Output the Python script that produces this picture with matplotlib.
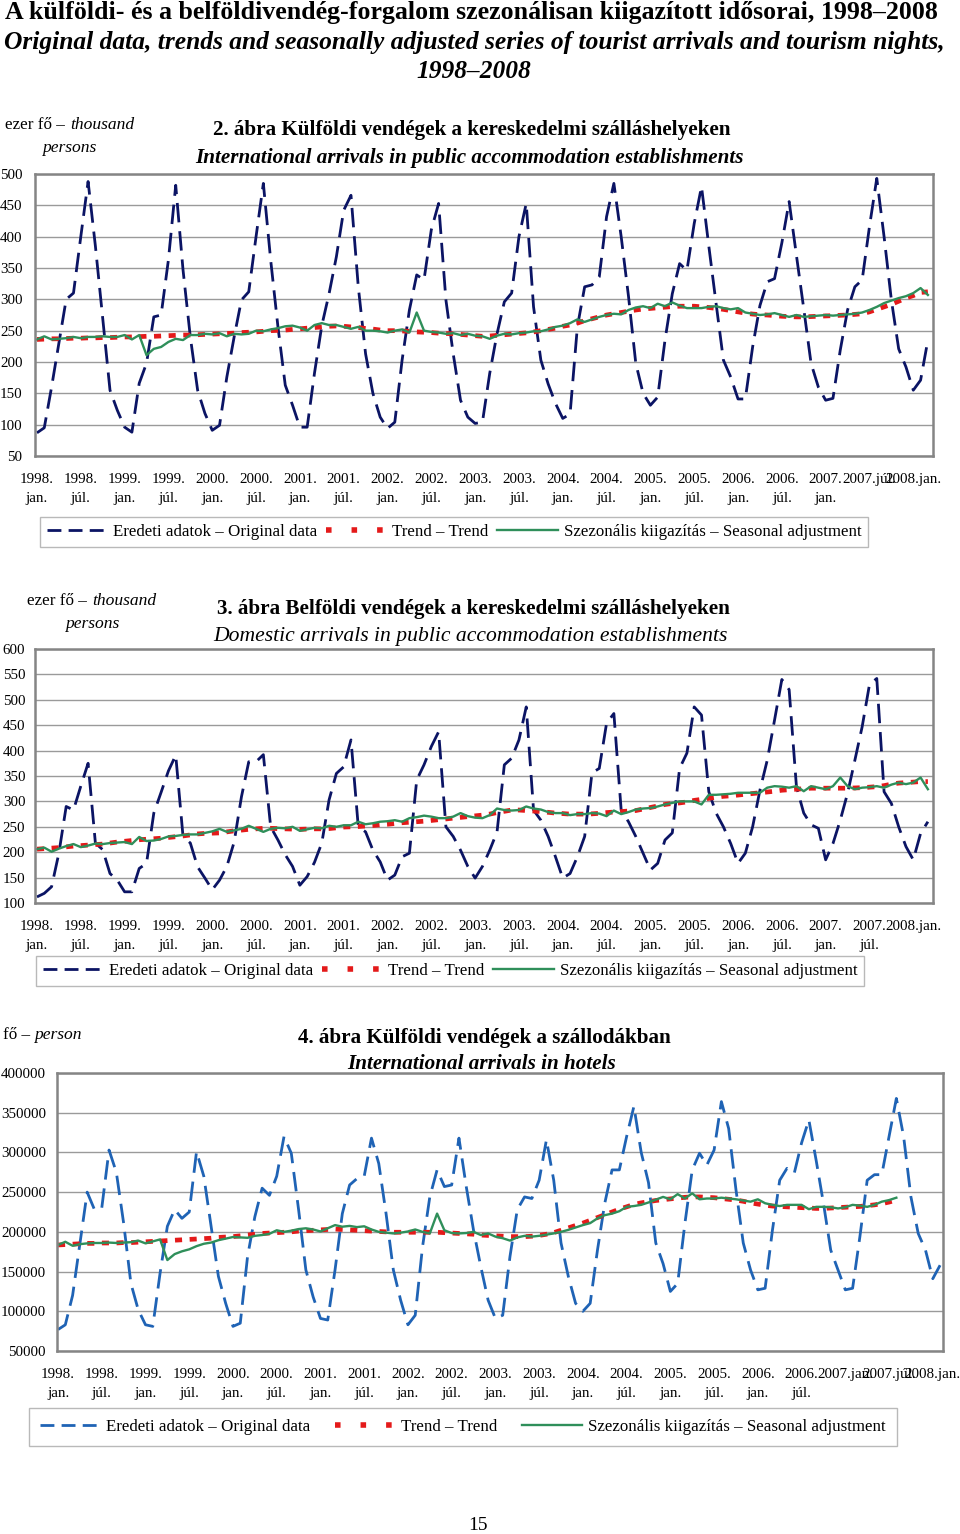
import matplotlib
matplotlib.use('Agg')
import matplotlib.pyplot as plt
from matplotlib.lines import Line2D

plt.rcParams['font.family'] = ['Liberation Serif', 'DejaVu Serif']

W, H = 960, 1534

## Data ##
# 2. abra - kulfoldi vendegek, kereskedelmi szallashelyek (ezer fo), 1998 jan - 2008 mar
orig_kulf = [87, 95, 160, 230, 300, 310, 400, 488, 385, 270, 155, 123,
             96, 88, 166, 198, 272, 275, 363, 482, 347, 240, 155, 118,
             91, 99, 176, 240, 299, 312, 400, 485, 363, 256, 163, 131,
             96, 96, 182, 258, 309, 368, 442, 466, 320, 213, 150, 112,
             94, 104, 203, 283, 339, 331, 411, 453, 299, 213, 139, 112,
             102, 104, 182, 245, 296, 310, 400, 453, 288, 203, 165, 134,
             110, 117, 256, 320, 323, 336, 432, 485, 400, 305, 198, 150,
             131, 144, 235, 309, 357, 346, 421, 480, 385, 293, 203, 176,
             141, 141, 224, 290, 328, 333, 390, 456, 370, 285, 198, 160,
             139, 142, 219, 283, 320, 331, 416, 493, 400, 299, 221, 192,
             155, 171, 235]
trend_kulf = [236, 236.5, 237, 237, 237.5, 238, 238, 238.5, 238.5, 239, 239, 239.5,
              240, 240, 240.5, 241, 241, 241.5, 242, 242.5, 243, 243, 243.5, 244,
              244.5, 245, 245.5, 246, 247, 247.5, 248, 249, 250, 250.5, 251, 252,
              253, 254, 255, 256, 257, 257.5, 257, 256, 255, 253.5, 252.5, 251,
              250, 250, 249.5, 249, 248, 247.5, 247, 246, 245.5, 245, 244, 243,
              242, 241, 241.5, 242.5, 243.5, 244.5, 245.5, 246.5, 248, 250, 252, 254,
              257, 259, 262, 266, 269, 272, 275, 277, 279, 281, 283, 284.5,
              285.5, 286.5, 287.5, 288.5, 289, 289, 289, 288, 287, 285.5, 284, 282,
              280, 278, 276.5, 275.5, 275, 274, 273, 272.5, 272, 272, 272.5, 273,
              273.5, 274, 274.5, 275, 276, 277, 280, 284, 288, 292, 297, 302,
              306, 311, 312]
sa_kulf = [236, 241, 236, 237, 238, 240, 238, 240, 240, 241, 240, 240,
           243, 236, 243, 211, 221, 224, 232, 237, 235, 243, 243, 245,
           244, 246, 241, 245, 244, 245, 250, 249, 252, 254, 257, 258,
           255, 250, 259, 262, 259, 259, 256, 253, 256, 250, 250, 249,
           247, 250, 252, 247, 279, 250, 248, 247, 245, 246, 243, 245,
           242, 241, 237, 242, 245, 244, 246, 247, 249, 249, 252, 256,
           258, 262, 268, 264, 268, 272, 275, 277, 276, 283, 287, 289,
           286, 293, 289, 295, 290, 286, 286, 286, 288, 289, 286, 284,
           286, 279, 277, 275, 276, 278, 275, 272, 275, 272, 273, 274,
           275, 274, 275, 276, 277, 279, 283, 288, 294, 298, 302, 305,
           310, 318, 307]

# 3. abra - belfoldi vendegek, kereskedelmi szallashelyek (ezer fo)
orig_belf = [112, 119, 132, 198, 290, 283, 330, 375, 218, 205, 158, 145,
             122, 122, 168, 178, 277, 318, 360, 391, 231, 218, 171, 149,
             126, 145, 172, 220, 309, 378, 378, 392, 250, 224, 195, 172,
             135, 152, 180, 218, 303, 355, 368, 421, 250, 240, 204, 181,
             145, 155, 191, 198, 342, 372, 408, 437, 250, 231, 204, 172,
             149, 172, 204, 240, 372, 385, 421, 486, 283, 263, 231, 191,
             149, 158, 191, 231, 356, 365, 454, 473, 283, 260, 231, 198,
             165, 178, 224, 238, 365, 395, 486, 470, 319, 277, 250, 217,
             178, 198, 250, 322, 381, 460, 540, 520, 329, 277, 254, 247,
             185, 217, 263, 316, 381, 447, 530, 542, 319, 296, 250, 211,
             185, 237, 260]
trend_belf = [206, 207, 208, 209, 210.5, 212, 213, 214, 215, 216, 218, 220,
              221.5, 223, 224.5, 225.5, 226.5, 227.5, 229, 230.5, 232, 234, 236, 237,
              237.5, 238, 240, 242, 243.5, 245, 246, 247, 247, 246.5, 246, 245.5,
              245, 245.5, 246, 246, 246.5, 248, 249.5, 250, 250.5, 251.5, 252.5, 254,
              255, 256.5, 258, 259, 260, 261, 262.5, 264, 265.5, 267, 268.5, 270,
              271.5, 273, 275, 278, 280.5, 283, 283, 282, 281, 280, 278.5, 277,
              276, 275, 275, 275, 275.5, 276.5, 278, 279, 280, 281, 282, 285,
              288, 291, 294, 296, 297, 299, 302, 304, 306, 308, 310, 311,
              312.5, 314, 315.5, 317, 318.5, 320, 322, 323, 324, 325, 326, 326,
              326, 326, 326, 326, 326.5, 327, 328, 329, 331, 334, 336, 337,
              338, 339, 339]
sa_belf = [206, 209, 201, 207, 212, 216, 210, 213, 217, 216, 218, 219,
           220, 216, 230, 222, 223, 226, 231, 232, 234, 235, 235, 238,
           241, 246, 240, 243, 246, 252, 246, 240, 246, 248, 247, 250,
           242, 245, 248, 247, 252, 250, 253, 253, 260, 255, 257, 260,
           261, 263, 260, 267, 269, 272, 270, 267, 267, 270, 277, 271,
           268, 267, 273, 286, 283, 282, 283, 290, 286, 284, 279, 277,
           277, 273, 275, 275, 277, 276, 271, 282, 275, 279, 284, 286,
           287, 290, 294, 297, 300, 300, 300, 294, 313, 313, 314, 315,
           317, 317, 317, 317, 327, 330, 329, 327, 330, 320, 330, 327,
           324, 330, 347, 330, 324, 327, 328, 330, 327, 333, 337, 334,
           337, 347, 324]

# 4. abra - kulfoldi vendegek a szallodakban (fo), 1998 jan - 2008 feb
orig_szal = [77000, 83000, 120000, 185000, 250000, 228000, 230000, 303000, 275000, 211000, 135000, 102000,
             83000, 81000, 148000, 207000, 228000, 217000, 225000, 301000, 270000, 207000, 144000, 110000,
             81000, 85000, 169000, 219000, 255000, 246000, 270000, 320000, 299000, 228000, 152000, 118000,
             91000, 89000, 152000, 223000, 259000, 267000, 270000, 318000, 286000, 223000, 152000, 114000,
             83000, 95000, 181000, 244000, 278000, 257000, 259000, 318000, 257000, 202000, 156000, 114000,
             91000, 95000, 169000, 228000, 244000, 242000, 265000, 316000, 265000, 186000, 144000, 110000,
             100000, 110000, 177000, 236000, 278000, 278000, 320000, 358000, 300000, 262000, 186000, 160000,
             125000, 135000, 211000, 278000, 299000, 284000, 303000, 364000, 330000, 253000, 186000, 152000,
             127000, 129000, 202000, 265000, 280000, 274000, 312000, 341000, 290000, 236000, 177000, 152000,
             127000, 129000, 194000, 265000, 272000, 272000, 320000, 368000, 320000, 244000, 198000, 177000,
             141000, 158000]
trend_szal = [183500, 184000, 184500, 185000, 185500, 185500, 186000, 186000, 186000, 186500, 186500, 187000,
              187500, 188000, 188500, 189000, 189500, 190000, 190500, 191000, 191500, 192000, 193000, 193500,
              194000, 195000, 196000, 197000, 198000, 198500, 199000, 199500, 200000, 201000, 201500, 202000,
              202500, 203000, 203500, 203000, 202500, 202000, 201500, 201000, 200500, 200000, 199500, 199500,
              199500, 199500, 199500, 199500, 199500, 199000, 198500, 198000, 197500, 197000, 196000, 195500,
              195000, 194500, 194000, 194000, 194000, 194500, 195500, 197000, 199000, 202000, 205000, 208000,
              211000, 214500, 218000, 221500, 225000, 228500, 231500, 234500, 236500, 238000, 239500, 240500,
              241500, 242500, 243500, 244000, 244000, 243500, 243000, 242000, 241000, 240000, 238500, 236500,
              235000, 233500, 232500, 232000, 231500, 231000, 230500, 230000, 229500, 229500, 230000, 230500,
              231000, 231500, 232000, 233000, 234000, 235500, 237500, 240000]
sa_szal = [183500, 187500, 182500, 184500, 185500, 186000, 186000, 186500, 186000, 186500, 187000, 189000,
           185500, 188000, 190500, 164500, 172000, 175500, 178000, 182000, 185000, 186500, 189500, 191500,
           193500, 193000, 192500, 195000, 196000, 197500, 202000, 200000, 201500, 203500, 204500, 203000,
           200500, 204500, 208500, 206500, 207500, 206000, 207000, 203000, 200000, 199000, 198000, 199000,
           200500, 203000, 200000, 198000, 223000, 202000, 198500, 198000, 198500, 200000, 196000, 198000,
           194000, 192000, 189000, 193000, 195000, 194000, 195000, 196500, 198000, 200000, 202500, 205500,
           208500, 211000, 217000, 221000, 223000, 226000, 231500, 232500, 234000, 237000, 240500, 244000,
           241000, 247500, 242000, 248500, 241000, 242000, 242000, 243000, 242000, 241000, 239500, 238000,
           241000, 236000, 234000, 232500, 234000, 234000, 234000, 228500, 231500, 231500, 231000, 229500,
           231000, 234000, 233000, 231500, 234000, 238000, 240000, 243000]

# tick labels, every 6th month
tick_pos = [0, 6, 12, 18, 24, 30, 36, 42, 48, 54, 60, 66, 72, 78, 84, 90, 96, 102, 108, 114, 120]
labels_kulf = ['1998.\njan.', '1998.\njúl.', '1999.\njan.', '1999.\njúl.', '2000.\njan.', '2000.\njúl.',
               '2001.\njan.', '2001.\njúl.', '2002.\njan.', '2002.\njúl.', '2003.\njan.', '2003.\njúl.',
               '2004.\njan.', '2004.\njúl.', '2005.\njan.', '2005.\njúl.', '2006.\njan.', '2006.\njúl.',
               '2007.\njan.', '2007.júl.', '2008.jan.']
labels_belf = ['1998.\njan.', '1998.\njúl.', '1999.\njan.', '1999.\njúl.', '2000.\njan.', '2000.\njúl.',
               '2001.\njan.', '2001.\njúl.', '2002.\njan.', '2002.\njúl.', '2003.\njan.', '2003.\njúl.',
               '2004.\njan.', '2004.\njúl.', '2005.\njan.', '2005.\njúl.', '2006.\njan.', '2006.\njúl.',
               '2007.\njan.', '2007.\njúl.', '2008.jan.']
labels_szal = ['1998.\njan.', '1998.\njúl.', '1999.\njan.', '1999.\njúl.', '2000.\njan.', '2000.\njúl.',
               '2001.\njan.', '2001.\njúl.', '2002.\njan.', '2002.\njúl.', '2003.\njan.', '2003.\njúl.',
               '2004.\njan.', '2004.\njúl.', '2005.\njan.', '2005.\njúl.', '2006.\njan.', '2006.\njúl.',
               '2007.jan.', '2007.júl.', '2008.jan.']

legend_texts = ['Eredeti adatok – Original data', 'Trend – Trend',
                'Szezonális kiigazítás – Seasonal adjustment']

NAVY = '#0b1464'
BLUE = '#1f63b5'
RED = '#e41a1a'
GREEN = '#2f8f5a'
GRID = '#9a9a9a'


def fx(px):
    return px / W


def fy(px):
    return 1 - px / H


def panel(box, orig, trend, sa, ylim, ystep, xlim, labels, orig_color, ypad):
    # box = (left, top, right, bottom) in pixels
    l, t, r, b = box
    ax = fig.add_axes([fx(l), fy(b), (r - l) / W, (b - t) / H])
    ax.plot(range(len(orig)), orig, color=orig_color, lw=2.0, dashes=(7, 3.2))
    ax.plot(range(len(trend)), trend, color=RED, lw=3.4, dashes=(1.5, 1.6))
    ax.plot(range(len(sa)), sa, color=GREEN, lw=1.7)
    ax.set_xlim(*xlim)
    ax.set_ylim(*ylim)
    ax.set_yticks(range(ylim[0], ylim[1] + 1, ystep))
    ax.yaxis.set_major_formatter(matplotlib.ticker.FuncFormatter(lambda v, p: '%d' % v))
    ax.set_xticks(tick_pos)
    ax.set_xticklabels(labels, linespacing=1.68)
    ax.grid(axis='y', color=GRID, lw=1.0)
    ax.set_axisbelow(True)
    for s in ax.spines.values():
        s.set_color('#858585')
        s.set_linewidth(1.8)
    ax.tick_params(axis='both', length=0, labelsize=10.8)
    ax.tick_params(axis='y', pad=ypad)
    ax.tick_params(axis='x', pad=12)
    return ax


def legend(cx, cy, colspace, hcolor, hpad):
    handles = [Line2D([], [], color=hcolor, lw=2.0, dashes=(5, 2.6)),
               Line2D([], [], color=RED, lw=4.0, dashes=(1.0, 3.6)),
               Line2D([], [], color=GREEN, lw=1.7)]
    lg = fig.legend(handles, legend_texts, loc='center', bbox_to_anchor=(fx(cx), fy(cy)),
                    ncol=3, fontsize=12.2, frameon=True, fancybox=False,
                    handlelength=3.55, handletextpad=0.35, columnspacing=colspace,
                    borderpad=hpad, borderaxespad=0)
    lg.get_frame().set_edgecolor('#a8a8a8')
    lg.get_frame().set_linewidth(1.0)


fig = plt.figure(figsize=(W / 100, H / 100), dpi=100)

# main title
fig.text(fx(471), fy(13), 'A külföldi- és a belföldivendég-forgalom szezonálisan kiigazított idősorai, 1998–2008',
         ha='center', va='center', fontsize=18.6, fontweight='bold')
fig.text(fx(474), fy(42), 'Original data, trends and seasonally adjusted series of tourist arrivals and tourism nights,',
         ha='center', va='center', fontsize=18.4, fontweight='bold', style='italic')
fig.text(fx(474), fy(72), '1998–2008', ha='center', va='center', fontsize=18.4, fontweight='bold', style='italic')

# chart 1
panel((35, 174, 933, 456), orig_kulf, trend_kulf, sa_kulf, (50, 500), 50,
      (-0.27, 122.7), labels_kulf, NAVY, 9)
fig.text(fx(472), fy(130), '2. ábra Külföldi vendégek a kereskedelmi szálláshelyeken',
         ha='center', va='center', fontsize=15.2, fontweight='bold')
fig.text(fx(469), fy(158), 'International arrivals in public accommodation establishments',
         ha='center', va='center', fontsize=15.2, fontweight='bold', style='italic')
fig.text(fx(5), fy(125), 'ezer fő –', ha='left', va='center', fontsize=12.3)
fig.text(fx(70), fy(125), 'thousand', ha='left', va='center', fontsize=12.6, style='italic')
fig.text(fx(42), fy(148), 'persons', ha='left', va='center', fontsize=12.6, style='italic')
legend(454, 532, 0.53, NAVY, 0.4)

# chart 2
panel((35, 649, 933, 903), orig_belf, trend_belf, sa_belf, (100, 600), 50,
      (-0.27, 122.7), labels_belf, NAVY, 7)
fig.text(fx(473), fy(609), '3. ábra Belföldi vendégek a kereskedelmi szálláshelyeken',
         ha='center', va='center', fontsize=15.2, fontweight='bold')
fig.text(fx(470), fy(636), 'Domestic arrivals in public accommodation establishments',
         ha='center', va='center', fontsize=15.6, style='italic')
fig.text(fx(27), fy(601), 'ezer fő –', ha='left', va='center', fontsize=12.3)
fig.text(fx(92), fy(601), 'thousand', ha='left', va='center', fontsize=12.6, style='italic')
fig.text(fx(65), fy(624), 'persons', ha='left', va='center', fontsize=12.6, style='italic')
legend(450, 971, 0.53, NAVY, 0.4)

# chart 3
panel((57, 1073, 943, 1351), orig_szal, trend_szal, sa_szal, (50000, 400000), 50000,
      (-0.14, 121.4), labels_szal, BLUE, 8)
fig.text(fx(484), fy(1038), '4. ábra Külföldi vendégek a szállodákban',
         ha='center', va='center', fontsize=15.2, fontweight='bold')
fig.text(fx(482), fy(1064), 'International arrivals in hotels',
         ha='center', va='center', fontsize=15.2, fontweight='bold', style='italic')
fig.text(fx(3), fy(1035), 'fő –', ha='left', va='center', fontsize=12.3)
fig.text(fx(34), fy(1035), 'person', ha='left', va='center', fontsize=12.6, style='italic')
legend(463, 1427, 1.45, BLUE, 0.65)

fig.text(fx(478), fy(1525), '15', ha='center', va='center', fontsize=14)

plt.savefig('out.png', dpi=100)
plt.close()
